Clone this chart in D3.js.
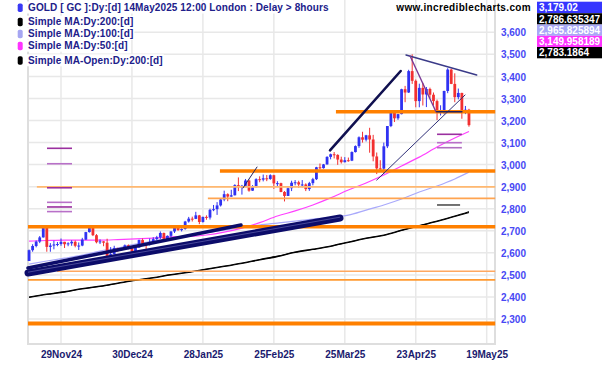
<!DOCTYPE html>
<html><head><meta charset="utf-8">
<script src="https://cdn.jsdelivr.net/npm/d3@7"></script>
<style>
body{margin:0;background:#fff;}
svg{display:block;font-family:"Liberation Sans",Arial,sans-serif;}
</style>
</head><body><svg id="c" width="602" height="365"></svg>
<script>
// ---------- DATA ----------
// daily bars, index 0 = 18Nov24 ... index 124 = 14May25
const opens = [2563,2612,2631,2651,2670,2716,2627,2633,2638,2640,
 2650,2639,2643,2650,2632,2633,2660,2694,2718,2680,
 2648,2652,2646,2586,2594,2622,2612,2617,2634,2620,
 2606,2624,2658,2640,2636,2649,2662,2670,2690,2663,
 2677,2697,2715,2703,2708,2742,2755,2754,2770,2740,
 2763,2760,2795,2798,2815,2842,2866,2855,2861,2907,
 2898,2904,2928,2882,2898,2934,2932,2938,2935,2952,
 2915,2916,2876,2858,2893,2918,2920,2910,2910,2889,
 2916,2934,2988,2984,3001,3035,3047,3044,3023,3011,
 3020,3018,3057,3084,3124,3113,3133,3114,3037,2983,
 2982,3083,3175,3237,3210,3229,3342,3327,3424,3380,
 3288,3348,3318,3343,3317,3288,3238,3240,3334,3431,
 3366,3306,3325,3234,3249];
const highs = [2615,2639,2656,2676,2721,2721,2644,2655,2649,2665,
 2650,2648,2657,2656,2647,2668,2695,2726,2721,2685,
 2661,2653,2664,2626,2632,2623,2622,2638,2638,2622,
 2630,2660,2665,2643,2665,2671,2677,2697,2692,2679,
 2698,2725,2716,2711,2745,2763,2764,2786,2772,2764,
 2770,2800,2817,2830,2845,2882,2870,2886,2911,2942,
 2908,2935,2932,2907,2938,2947,2955,2953,2956,2954,
 2925,2918,2880,2896,2927,2930,2927,2930,2915,2922,
 2940,2990,3005,3003,3038,3050,3057,3047,3036,3034,
 3032,3060,3087,3128,3149,3135,3167,3135,3055,3020,
 3100,3175,3245,3245,3230,3344,3357,3430,3500,3386,
 3367,3371,3352,3349,3327,3295,3269,3335,3437,3435,
 3414,3345,3326,3266,3253];
const lows = [2563,2605,2625,2644,2669,2605,2605,2616,2630,2632,
 2622,2630,2632,2625,2613,2630,2658,2692,2676,2643,
 2640,2630,2583,2584,2593,2604,2610,2614,2616,2597,
 2605,2623,2636,2614,2633,2645,2658,2663,2656,2660,
 2670,2690,2700,2697,2705,2737,2742,2753,2730,2737,
 2750,2751,2789,2772,2810,2834,2834,2854,2860,2880,
 2864,2902,2877,2881,2897,2920,2924,2925,2931,2890,
 2902,2875,2833,2858,2880,2906,2895,2897,2880,2881,
 2906,2930,2978,2982,3000,3024,3028,2999,3005,3010,
 3013,3016,3055,3076,3100,3105,3054,3015,2957,2970,
 2957,3075,3170,3193,3203,3228,3283,3325,3366,3260,
 3260,3268,3261,3301,3268,3202,3223,3228,3324,3365,
 3283,3296,3208,3229,3172];
const closes = [2612,2631,2651,2670,2716,2627,2633,2638,2640,2650,
 2639,2643,2650,2632,2633,2660,2694,2718,2680,2648,
 2652,2646,2586,2594,2622,2612,2617,2634,2620,2606,
 2624,2658,2640,2636,2649,2662,2670,2690,2663,2677,
 2697,2715,2703,2708,2742,2755,2754,2770,2740,2763,
 2760,2795,2798,2815,2842,2866,2855,2861,2907,2898,
 2904,2928,2882,2898,2934,2932,2938,2935,2952,2915,
 2916,2876,2858,2893,2918,2920,2910,2910,2889,2916,
 2934,2988,2984,3001,3035,3047,3044,3023,3011,3020,
 3018,3057,3084,3124,3113,3133,3114,3037,2983,2982,
 3083,3175,3237,3210,3229,3342,3327,3424,3380,3288,
 3348,3318,3343,3317,3288,3238,3240,3334,3431,3366,
 3306,3325,3234,3249,3179];

// moving averages sampled at these bar indices
const maIndex = [0,5,10,15,20,25,30,35,40,45,50,55,60,65,70,75,80,85,90,95,100,105,110,115,120,124];
const ma50  = [2653,2656,2658,2658,2658,2660,2663,2667,2672,2674,2681,2694,2712,2737,2767,2790,2817,2849,2885,2917,2953,2994,3034,3080,3121,3150];
const ma100 = [2549,2563,2576,2590,2608,2622,2640,2653,2667,2681,2692,2703,2715,2726,2735,2744,2753,2760,2771,2794,2817,2844,2876,2903,2935,2966];
const ma200 = [2400,2413,2424,2438,2449,2463,2477,2488,2502,2513,2527,2540,2554,2570,2585,2604,2617,2631,2649,2667,2681,2703,2724,2744,2767,2787];
const ma200open = [2398,2411,2422,2436,2447,2461,2475,2486,2500,2511,2525,2538,2552,2568,2583,2602,2615,2629,2647,2665,2679,2701,2722,2742,2765,2783];

// axis ticks
const yTicks = [2300,2400,2500,2600,2700,2800,2900,3000,3100,3200,3300,3400,3500,3600];
const xTickIndex = [9,29,49,69,89,109,129];
const xTickLabels = ["29Nov24","30Dec24","28Jan25","25Feb25","25Mar25","23Apr25","19May25"];

// support / resistance levels: value, start bar, end bar
const supportLevels = [3240,2971,2899,2847,2718,2517,2477,2280];
const supportStart  = [86.5,53.8,2.2,50.4,-0.3,7.9,-0.3,-0.3];
const supportEnd    = [131.4,131.4,131.4,131.4,131.4,131.4,131.4,131.4];

// trend lines: [bar0, value0, bar1, value1]
const trendLines = [
 [-0.3,2508.6,87.65,2758],
 [-0.3,2531,59.74,2726],
 [60.3,2894,64.25,2989],
 [84.83,3064.5,104.76,3424.5],
 [98.0,2930,122.9,3315.7],
 [106.25,3497,126.18,3406.4],
 [107.4,3492.5,114.7,3240],
 [114.9,3240,122.0,3240]
];
// short marker lines: value, start bar, end bar
const markLevels = [3074,3004,2895,2829,2808,2787,3137.5,3099.4,3076.7,2817];
const markStart  = [5.05,5.05,5.05,5.05,5.05,5.05,115,115,115,115];
const markEnd    = [12.1,12.1,12.1,12.1,12.1,12.1,122,122,122,121.5];

const legendLabels = ["GOLD [ GC ]:Dy:[d]  14May2025 12:00 London : Delay > 8hours",
 "Simple MA:Dy:200:[d]","Simple MA:Dy:100:[d]","Simple MA:Dy:50:[d]","Simple MA-Open:Dy:200:[d]"];
const lastValues = ["3,179.02","2,786.635347","2,965.825894","3,149.958189","2,783.1864"];

// ---------- STYLE ----------
const UP = "#2f32f2", DOWN = "#f23030";
const supportWidth = [3.5,3.5,1.6,1.6,3.5,1.5,1.8,4];
const supportColor = ["#ff8000","#ff8000","#ffb870","#ffa450","#ff8000","#ffa860","#ff9a30","#ff8000"];
const trendWidth = [7,3.5,1,2.6,1,1.4,1.4,1.6];
const trendColor = ["#0c0c6a","#0c0c6a","#202060","#101050","#303078","#3a3a88","#7a3a96","#202060"];
const markColor = ["#9a2f9f","#b870c8","#9a2f9f","#b870c8","#9a2f9f","#b870c8","#9a2f9f","#b870c8","#b070c0","#505050"];
const legendColors = ["#3a3af5","#000000","#a6a6f2","#ff33ff","#000000"];
const boxColors = ["#3535ff","#000000","#a8a8f6","#ff33ff","#000000"];

// ---------- LAYOUT ----------
const svg = d3.select("#c");
const L = 28, R = 495, B = 344;
const x = d3.scaleLinear().domain([9,129]).range([61,486.7]);
const y = d3.scaleLinear().domain([2300,3600]).range([319,32.3]);

// grid
svg.append("g").selectAll("line").data(yTicks).join("line")
  .attr("x1",L).attr("x2",R).attr("y1",d=>y(d)).attr("y2",d=>y(d))
  .attr("stroke","#e8e8e8").attr("stroke-width",1.5);
svg.append("g").selectAll("line").data(xTickIndex).join("line")
  .attr("x1",d=>x(d)).attr("x2",d=>x(d)).attr("y1",0).attr("y2",B)
  .attr("stroke","#e8e8e8").attr("stroke-width",1.5);
// frame
svg.append("path").attr("d",`M${L},0V${B}H${R}V0`).attr("fill","none")
  .attr("stroke","#dedede").attr("stroke-width",2);

// moving averages
const maLine = vals => d3.line().x((d,i)=>x(maIndex[i])).y(d=>y(d)).curve(d3.curveMonotoneX)(vals);
[[ma200,"#000",1.1],[ma200open,"#000",1.1],[ma100,"#a9a9fb",1.2],[ma50,"#ff40ff",1.2]].forEach(([v,c,w])=>{
  svg.append("path").attr("d",maLine(v)).attr("fill","none").attr("stroke",c).attr("stroke-width",w);
});

// candles
const bars = opens.map((o,i)=>({i,o,h:highs[i],l:lows[i],c:closes[i]}));
const cg = svg.append("g");
cg.selectAll("line").data(bars).join("line")
  .attr("x1",d=>x(d.i)).attr("x2",d=>x(d.i)).attr("y1",d=>y(d.h)).attr("y2",d=>y(d.l))
  .attr("stroke",d=>d.c>=d.o?UP:DOWN).attr("stroke-width",1);
cg.selectAll("rect").data(bars).join("rect")
  .attr("x",d=>x(d.i)-1.4).attr("width",2.8)
  .attr("y",d=>y(Math.max(d.o,d.c))).attr("height",d=>Math.max(1,Math.abs(y(d.o)-y(d.c))))
  .attr("fill",d=>d.c>=d.o?UP:DOWN);

// support lines
svg.append("g").selectAll("line").data(supportLevels).join("line")
  .attr("x1",(d,i)=>x(supportStart[i])).attr("x2",(d,i)=>x(supportEnd[i]))
  .attr("y1",d=>y(d)).attr("y2",d=>y(d))
  .attr("stroke",(d,i)=>supportColor[i]).attr("stroke-width",(d,i)=>supportWidth[i]);

// marker lines
svg.append("g").selectAll("line").data(markLevels).join("line")
  .attr("x1",(d,i)=>x(markStart[i])).attr("x2",(d,i)=>x(markEnd[i]))
  .attr("y1",d=>y(d)).attr("y2",d=>y(d))
  .attr("stroke",(d,i)=>markColor[i]).attr("stroke-width",1.6);

// trend lines
svg.append("g").selectAll("line").data(trendLines).join("line")
  .attr("x1",d=>x(d[0])).attr("y1",d=>y(d[1])).attr("x2",d=>x(d[2])).attr("y2",d=>y(d[3]))
  .attr("stroke",(d,i)=>trendColor[i]).attr("stroke-width",(d,i)=>trendWidth[i])
  .attr("stroke-linecap","round");
// light stripe inside the thick channel
svg.append("line").attr("x1",x(trendLines[0][0])).attr("y1",y(trendLines[0][1])-0.8)
  .attr("x2",x(trendLines[0][2])).attr("y2",y(trendLines[0][3])-0.8)
  .attr("stroke","#8888cc").attr("stroke-width",0.7).attr("opacity",0.7);

// y axis labels
const yAx = svg.append("g").attr("transform","translate(526,0)")
  .call(d3.axisLeft(y).tickValues(yTicks).tickFormat(d3.format(",")).tickSize(0).tickPadding(0));
yAx.select(".domain").remove();
yAx.selectAll("text").attr("fill","#4848f4").attr("font-size",10).attr("font-weight","bold")
  .attr("font-family","Liberation Sans, Arial, sans-serif").attr("dy","0.36em");

// x axis labels
const xAx = svg.append("g").attr("transform","translate(0,351)")
  .call(d3.axisBottom(x).tickValues(xTickIndex).tickFormat((d,i)=>xTickLabels[i]).tickSize(0).tickPadding(0));
xAx.select(".domain").remove();
xAx.selectAll("text").attr("fill","#1a1a6e").attr("font-size",10).attr("font-weight","bold")
  .attr("font-family","Liberation Sans, Arial, sans-serif");

// legend
const legY = [7.5,21.7,33.7,45.7,60.3];
legendLabels.forEach((t,i)=>{
  const g = svg.append("g");
  const bg = g.append("rect").attr("fill","#fff");
  const tx = g.append("text").attr("x",28).attr("y",legY[i]+3.6).text(t)
    .attr("font-size",10).attr("font-weight","bold").attr("fill","#20208a")
    .attr("letter-spacing",0.1);
  const w = tx.node().getComputedTextLength();
  bg.attr("x",27).attr("y",legY[i]-6).attr("width",w+2).attr("height",12);
  g.append("rect").attr("x",17.7).attr("y",legY[i]-4).attr("width",5).attr("height",8.5)
    .attr("rx",1.8).attr("fill",legendColors[i]);
});

// site text
svg.append("text").attr("x",531).attr("y",11.2).attr("text-anchor","end")
  .attr("font-size",10).attr("font-weight","bold").attr("fill","#000")
  .attr("letter-spacing",0.35).text("www.incrediblecharts.com");

// last value boxes
const boxY = [1.7,13.2,24.5,35.8,47];
lastValues.forEach((t,i)=>{
  svg.append("rect").attr("x",537).attr("y",boxY[i]).attr("width",65).attr("height",11.3).attr("fill",boxColors[i]);
  svg.append("text").attr("x",539).attr("y",boxY[i]+9.4).attr("font-size",10).attr("font-weight","bold")
    .attr("fill","#fff").text(t);
});
</script>
</body></html>
